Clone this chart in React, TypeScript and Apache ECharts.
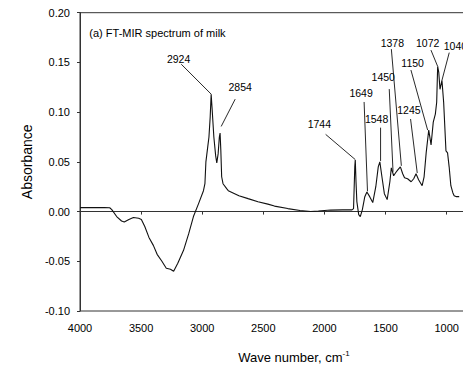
import React, { useEffect, useRef } from "react";
import * as echarts from "echarts";

// Spectrum (wavenumber, cm-1) and absorbance
const wavenumbers = [
  4000, 3900, 3800, 3757, 3740, 3700, 3660, 3638, 3600, 3563, 3520, 3498, 3470, 3436, 3400, 3369, 3330,
  3294, 3260, 3234, 3200, 3153, 3110, 3072, 3030, 2990, 2978, 2970, 2955, 2945, 2935, 2927, 2920, 2905,
  2890, 2881, 2870, 2860, 2854, 2848, 2841, 2830, 2800, 2787, 2700, 2625, 2544, 2463, 2409, 2300, 2200,
  2112, 2050, 1950, 1850, 1775, 1762, 1752, 1748, 1742, 1735, 1720, 1707, 1690, 1670, 1653, 1630, 1605,
  1580, 1560, 1547, 1530, 1510, 1487, 1465, 1453, 1434, 1418, 1400, 1379, 1360, 1345, 1320, 1291, 1270,
  1251, 1230, 1201, 1185, 1168, 1147, 1128, 1110, 1093, 1082, 1074, 1065, 1055, 1039, 1025, 1006, 993,
  980, 966, 950, 939, 920, 898,
];
const absorbance = [
  0.004, 0.004, 0.004, 0.0038, 0.002, -0.005, -0.0095, -0.0105, -0.008, -0.006, -0.0068, -0.0079, -0.015,
  -0.026, -0.034, -0.043, -0.05, -0.057, -0.058, -0.06, -0.052, -0.039, -0.022, -0.005, 0.008, 0.021,
  0.028, 0.05, 0.065, 0.075, 0.095, 0.118, 0.105, 0.075, 0.056, 0.049, 0.058, 0.075, 0.079, 0.062, 0.035,
  0.028, 0.023, 0.021, 0.016, 0.013, 0.0098, 0.0075, 0.0055, 0.003, 0.001, 0.0, 0.0005, 0.0015, 0.0017,
  0.0017, 0.003, 0.045, 0.052, 0.03, 0.01, -0.003, -0.005, 0.002, 0.015, 0.0197, 0.015, 0.009, 0.025,
  0.045, 0.05, 0.035, 0.018, 0.012, 0.03, 0.044, 0.036, 0.039, 0.042, 0.045, 0.038, 0.034, 0.033, 0.03,
  0.033, 0.038, 0.032, 0.026, 0.035, 0.059, 0.082, 0.067, 0.09, 0.098, 0.11, 0.146, 0.14, 0.123, 0.132,
  0.11, 0.061, 0.059, 0.045, 0.026, 0.019, 0.016, 0.015, 0.015,
];

// Peak annotations: label and the point where its leader line touches the curve
const peakLabels = ["2924", "2854", "1744", "1649", "1548", "1450", "1378", "1150", "1245", "1072", "1040"];
const peakWn = [2926, 2845, 1750, 1648, 1541, 1439, 1371, 1156, 1241, 1074, 1039];
const peakAbs = [0.118, 0.0856, 0.0525, 0.0204, 0.0509, 0.04, 0.046, 0.082, 0.0388, 0.146, 0.132];

const yTicks = { min: -0.1, max: 0.2, interval: 0.05 };
const xTicks = { min: 500, max: 4000, interval: 500 };

// Layout of the annotation labels (pixel offsets from the touching point)
const labelLayout: { line: [number, number]; text: [number, number] }[] = [
  { line: [-30, -30], text: [-32.7, -35] },
  { line: [14, -27.3], text: [19, -39] },
  { line: [-29.4, -25], text: [-35.7, -35.3] },
  { line: [-3.4, -89.3], text: [-6.4, -98.7] },
  { line: [0, -33.3], text: [-4, -42.3] },
  { line: [-3.8, -82.7], text: [-9.8, -94.3] },
  { line: [-10, -116.7], text: [-9, -123.3] },
  { line: [-16.7, -60], text: [-15, -66.6] },
  { line: [-6.7, -54], text: [-8.3, -63.3] },
  { line: [-6.7, -16.3], text: [-10, -23.7] },
  { line: [7.3, -27.7], text: [13.5, -34.4] },
];

const FONT = 'Arial, "Liberation Sans", sans-serif';

export default function App() {
  const ref = useRef<HTMLDivElement>(null);
  useEffect(() => {
    document.body.style.margin = "0";
    const chart = echarts.init(ref.current!, null, { renderer: "svg" });
    const data = wavenumbers.map((w, i) => [w, absorbance[i]]);
    chart.setOption({
      animation: false,
      grid: {
        left: 80,
        width: 432.6,
        top: 12.7,
        bottom: 53.3,
        show: true,
        borderColor: "#333",
        borderWidth: 1,
      },
      xAxis: {
        type: "value",
        inverse: true,
        min: xTicks.min,
        max: xTicks.max,
        interval: xTicks.interval,
        splitLine: { show: false },
        axisLine: { show: true, lineStyle: { color: "#333", width: 1 } },
        axisTick: { show: true, inside: false, length: 3, lineStyle: { color: "#333" } },
        axisLabel: {
          color: "#000",
          fontSize: 11,
          fontFamily: FONT,
          margin: 11,
          formatter: (v: number) => String(v),
        },
        name: "Wave number, cm{sup|-1}",
        nameLocation: "middle",
        nameGap: 38,
        nameTextStyle: {
          color: "#000",
          fontSize: 13,
          fontFamily: FONT,
          lineHeight: 16,
          rich: { sup: { fontSize: 8, fontFamily: FONT, color: "#000", verticalAlign: "top", lineHeight: 8 } },
        },
      },
      yAxis: {
        type: "value",
        min: yTicks.min,
        max: yTicks.max,
        interval: yTicks.interval,
        splitLine: { show: false },
        axisLine: { show: true, lineStyle: { color: "#333", width: 1 } },
        axisTick: { show: true, inside: false, length: 3, lineStyle: { color: "#333" } },
        axisLabel: {
          color: "#000",
          fontSize: 11,
          fontFamily: FONT,
          margin: 10,
          formatter: (v: number) => v.toFixed(2),
        },
        name: "Absorbance",
        nameLocation: "middle",
        nameGap: 37,
        nameTextStyle: { color: "#000", fontSize: 14, fontFamily: FONT },
      },
      series: [
        {
          type: "line",
          data,
          symbol: "none",
          lineStyle: { color: "#111", width: 1.1 },
        },
      ],
    });

    const graphics: any[] = [
      {
        type: "text",
        x: 89.3,
        y: 33.3,
        style: {
          text: "(a) FT-MIR spectrum of milk",
          fill: "#000",
          fontSize: 11,
          fontFamily: FONT,
          align: "left",
          verticalAlign: "middle",
        },
      },
    ];
    peakLabels.forEach((lab, i) => {
      const p = chart.convertToPixel({ xAxisIndex: 0, yAxisIndex: 0 }, [peakWn[i], peakAbs[i]]) as number[];
      const lay = labelLayout[i];
      graphics.push({
        type: "line",
        shape: { x1: p[0] + lay.line[0], y1: p[1] + lay.line[1], x2: p[0], y2: p[1] },
        style: { stroke: "#111", lineWidth: 0.9 },
      });
      graphics.push({
        type: "text",
        x: p[0] + lay.text[0],
        y: p[1] + lay.text[1],
        style: {
          text: lab,
          fill: "#000",
          fontSize: 10.5,
          fontFamily: FONT,
          align: "center",
          verticalAlign: "middle",
        },
      });
    });
    chart.setOption({ graphic: graphics });

    return () => chart.dispose();
  }, []);
  return (
    <div
      style={{ position: "absolute", left: 0, top: 0, width: 463, height: 370, overflow: "hidden", background: "#fff" }}
    >
      <div ref={ref} style={{ width: 520, height: 370 }} />
    </div>
  );
}
